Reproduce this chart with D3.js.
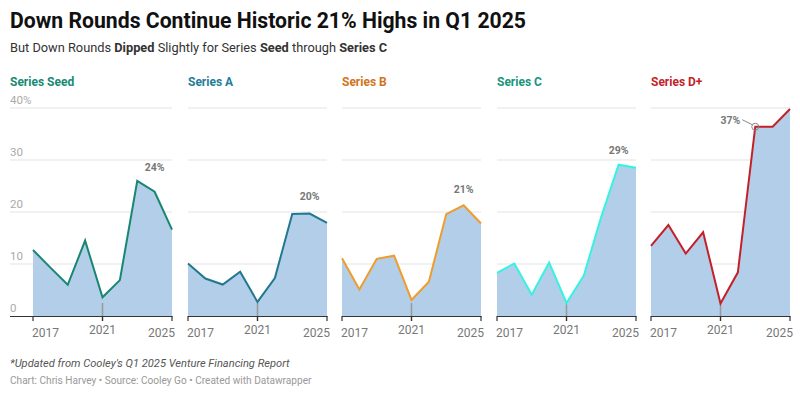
<!DOCTYPE html>
<html>
<head>
<meta charset="utf-8">
<script src="https://cdn.jsdelivr.net/npm/d3@7"></script>
<style>
body { margin: 0; background: #fff; font-family: Roboto, "Noto Sans", sans-serif; }
</style>
</head>
<body>
<div id="chart"></div>
<script>
var W = 800, H = 397;

var years = [2017, 2018, 2019, 2020, 2021, 2022, 2023, 2024, 2025];
var tickYears = [2017, 2021, 2025];
var yTicks = [0, 10, 20, 30, 40];

var panelNames = ["Series Seed", "Series A", "Series B", "Series C", "Series D+"];
var seed = [12.7, 9.3, 6.0, 14.5, 3.6, 6.9, 26.0, 23.9, 16.6];
var seriesA = [10.1, 7.2, 6.05, 8.5, 2.7, 7.3, 19.6, 19.7, 17.9];
var seriesB = [11.1, 5.1, 11.0, 11.6, 3.1, 6.6, 19.6, 21.3, 17.8];
var seriesC = [8.3, 10.1, 4.1, 10.3, 2.5, 7.8, 19.1, 29.1, 28.5];
var seriesD = [13.5, 17.5, 12.0, 16.1, 2.4, 8.4, 36.4, 36.4, 39.8];
var labelText = ["24%", "20%", "21%", "29%", "37%"];
var labelIndex = [7, 7, 7, 7, 6];

var allSeries = [seed, seriesA, seriesB, seriesC, seriesD];
var titleColors = ["#178a73", "#1f7d99", "#d2741c", "#17957c", "#c51f2a"];
var lineColors = ["#198672", "#21788f", "#ef9c2c", "#35f2e2", "#c4202a"];
var labelDy = [-21, -14, -12, -11, 0];
var fill = "#b2cee8";

var panelLeft = [33, 188, 342, 497, 651];
var panelW = 139;

var svg = d3.select("#chart").append("svg")
	.attr("width", W)
	.attr("height", H)
	.style("font-family", "Roboto, sans-serif");

// header
svg.append("text")
	.attr("x", 10).attr("y", 28)
	.style("font-size", "21.2px").style("font-weight", "bold").attr("fill", "#111")
	.text("Down Rounds Continue Historic 21% Highs in Q1 2025");

var sub = svg.append("text")
	.attr("x", 10).attr("y", 52)
	.style("font-size", "12.8px").attr("fill", "#333");
[["But Down Rounds ", 400], ["Dipped", 700], [" Slightly for Series ", 400], ["Seed", 700], [" through ", 400], ["Series C", 700]]
	.forEach(p => sub.append("tspan").style("font-weight", p[1]).text(p[0]));

var y = d3.scaleLinear().domain([0, 40]).range([316, 108]);

for(let i = 0; i < allSeries.length; i++) {
	let x0 = panelLeft[i];
	let x = d3.scaleLinear().domain([2017, 2025]).range([x0, x0 + panelW]);
	let g = svg.append("g");
	let data = allSeries[i];
	let gridStart = i === 0 ? 10 : x0;

	g.append("text")
		.attr("x", i === 0 ? 10 : x0).attr("y", 86)
		.style("font-size", "12px").style("font-weight", "bold")
		.attr("fill", titleColors[i])
		.text(panelNames[i]);

	g.selectAll(".grid")
		.data(yTicks.slice(1))
		.enter()
		.append("line")
		.attr("x1", gridStart).attr("x2", x0 + panelW)
		.attr("y1", d => y(d)).attr("y2", d => y(d))
		.attr("stroke", "#e3e3e3").attr("stroke-width", 1);

	if(i === 0) {
		g.selectAll(".ylab")
			.data(yTicks)
			.enter()
			.append("text")
			.attr("x", 10).attr("y", d => y(d) - 4)
			.style("font-size", "11.5px").attr("fill", "#aaa")
			.text(d => d === 40 ? d + "%" : d);
	}

	g.append("path")
		.datum(data)
		.attr("fill", fill)
		.attr("d", d3.area().x((d, j) => x(years[j])).y0(y(0)).y1(d => y(d)));

	// 2021 marker line
	g.append("line")
		.attr("x1", x(2021)).attr("x2", x(2021))
		.attr("y1", y(0) - 13).attr("y2", y(0) + 5)
		.attr("stroke", "#999").attr("stroke-width", 1.5);

	g.append("path")
		.datum(data)
		.attr("fill", "none")
		.attr("stroke", lineColors[i])
		.attr("stroke-width", 2)
		.attr("stroke-linejoin", "miter")
		.attr("d", d3.line().x((d, j) => x(years[j])).y(d => y(d)));

	// axis
	g.append("line")
		.attr("x1", gridStart).attr("x2", x0 + panelW + 0.5)
		.attr("y1", y(0) + 0.5).attr("y2", y(0) + 0.5)
		.attr("stroke", "#333").attr("stroke-width", 1.2);

	g.selectAll(".tick")
		.data(tickYears)
		.enter()
		.append("line")
		.attr("x1", d => x(d)).attr("x2", d => x(d))
		.attr("y1", y(0)).attr("y2", y(0) + 5)
		.attr("stroke", "#333").attr("stroke-width", 1.2);

	g.selectAll(".xlab")
		.data(tickYears)
		.enter()
		.append("text")
		.attr("x", d => x(d)).attr("y", d => d === 2021 ? 334 : 337)
		.attr("text-anchor", (d, j) => j === 0 ? "start" : (j === 2 ? "end" : "middle"))
		.attr("dx", (d, j) => j === 0 ? -1 : (j === 2 ? 3 : 0))
		.style("font-size", "12px").attr("fill", "#777")
		.text(d => d);

	let li = labelIndex[i];
	let lx = x(years[li]), ly = y(data[li]);
	if(i < 4) {
		g.append("text")
			.attr("x", lx).attr("y", ly + labelDy[i])
			.attr("text-anchor", "middle")
			.style("font-size", "10.5px").style("font-weight", "bold")
			.attr("fill", "#777")
			.text(labelText[i]);
	} else {
		g.append("circle")
			.attr("cx", lx).attr("cy", ly)
			.attr("r", 3.5)
			.attr("fill", "none").attr("stroke", "#888").attr("stroke-width", 1);
		g.append("line")
			.attr("x1", lx - 13).attr("y1", ly - 7)
			.attr("x2", lx - 3).attr("y2", ly - 2)
			.attr("stroke", "#888").attr("stroke-width", 1);
		g.append("text")
			.attr("x", lx - 15).attr("y", ly - 3)
			.attr("text-anchor", "end")
			.style("font-size", "10.5px").style("font-weight", "bold")
			.attr("fill", "#777")
			.text(labelText[i]);
	}
}

// footer
svg.append("text")
	.attr("x", 10).attr("y", 367)
	.style("font-size", "11.1px").style("font-style", "italic").attr("fill", "#555")
	.text("*Updated from Cooley's Q1 2025 Venture Financing Report");

svg.append("text")
	.attr("x", 10).attr("y", 384)
	.style("font-size", "10.1px").attr("fill", "#999")
	.text("Chart: Chris Harvey \u2022 Source: Cooley Go \u2022 Created with Datawrapper");
</script>
</body>
</html>
